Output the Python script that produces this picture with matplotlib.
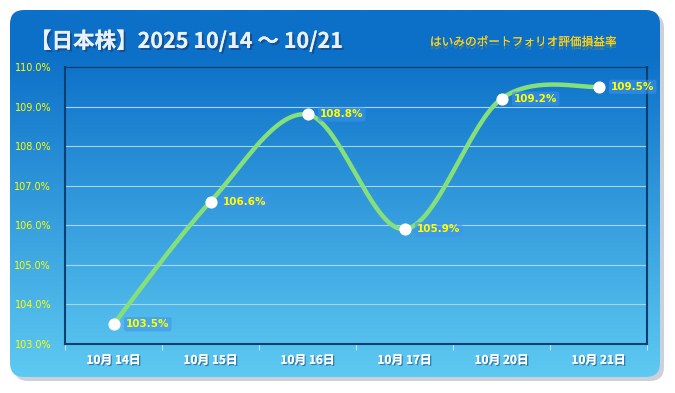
import numpy as np
import matplotlib
matplotlib.use("Agg")
from matplotlib import pyplot as plt
from matplotlib.patches import FancyBboxPatch
import matplotlib.patheffects as pe

plt.rcParams['font.family'] = ['Noto Sans CJK JP', 'DejaVu Sans']

# データ
dates = ["10月 14日", "10月 15日", "10月 16日", "10月 17日", "10月 20日", "10月 21日"]
values = [103.5, 106.6, 108.8, 105.9, 109.2, 109.5]
y_ticks = [103, 104, 105, 106, 107, 108, 109, 110]
title = "【日本株】2025 10/14 ～ 10/21"
subtitle = "はいみのポートフォリオ評価損益率"

W, H = 675, 393
fig = plt.figure(figsize=(W / 100, H / 100), dpi=100)
fig.patch.set_facecolor("white")

# 背景（カード＋グラデーション）
bg = fig.add_axes([0, 0, 1, 1])
bg.set_xlim(0, W)
bg.set_ylim(H, 0)
bg.axis("off")

shadow = FancyBboxPatch((14, 14), 650, 367, boxstyle="round,pad=0,rounding_size=14",
                        fc="#cdd0d6", ec="none", zorder=0)
bg.add_patch(shadow)
card = FancyBboxPatch((10, 10), 650, 367, boxstyle="round,pad=0,rounding_size=14",
                      fc="none", ec="none", zorder=1)
bg.add_patch(card)
top = np.array([12, 112, 200]) / 255
bot = np.array([94, 202, 242]) / 255
t = np.linspace(0, 1, 256)[:, None]
t = np.clip((t - 0.12) / 0.88, 0, 1)
grad = (top[None, :] * (1 - t) + bot[None, :] * t)[:, None, :]
im = bg.imshow(grad, extent=(10, 660, 377, 10), aspect="auto", interpolation="bilinear", zorder=2)
im.set_clip_path(card)

shadow_fx = [pe.withSimplePatchShadow(offset=(1.5, -1.5), shadow_rgbFace="#1b3c6a", alpha=0.6), pe.Normal()]
bg.text(30, 41, title, color="#e9f1fb", fontsize=15.5, fontweight="bold", va="center",
        ha="left", path_effects=shadow_fx, zorder=3)
bg.text(430, 42, subtitle, color="#ffd21a", fontsize=8.4, va="center",
        ha="left", zorder=3,
        path_effects=[pe.withSimplePatchShadow(offset=(0, -2.5), shadow_rgbFace="#e0b000", alpha=0.35), pe.Normal()])

# メインのグラフ
ax = fig.add_axes([65 / W, (H - 344) / H, 582 / W, 277 / H])
ax.patch.set_alpha(0)
ax.set_xlim(-0.5, len(dates) - 0.5)
ax.set_ylim(103, 110)
ax.set_yticks(y_ticks)
ax.set_yticklabels([f"{v:.1f}%" for v in y_ticks], color="#ffff00", fontsize=7,
                   family=["DejaVu Sans"])
ax.set_xticks(np.arange(len(dates)))
ax.set_xticklabels(dates, color="white", fontsize=8.5, fontweight="bold",
                   path_effects=[pe.withSimplePatchShadow(offset=(1, -1), shadow_rgbFace="#2a5a8a", alpha=0.7), pe.Normal()])
ax.set_xticks(np.arange(len(dates) + 1) - 0.5, minor=True)
ax.tick_params(axis="x", which="major", length=0, pad=7)
ax.tick_params(axis="x", which="minor", length=4, color="#d8ecf8", direction="out")
ax.tick_params(axis="y", length=0, pad=10)
ax.grid(axis="y", color="#a9d4f5", lw=0.8)
for s in ax.spines.values():
    s.set_color("#0a3f70")
    s.set_linewidth(1.5)
ax.spines["top"].set_linewidth(1)

# 平滑化した線（Catmull-Rom）
x = np.arange(len(values), dtype=float)
y = np.array(values)
px = np.concatenate([[x[0]], x, [x[-1]]])
py = np.concatenate([[y[0]], y, [y[-1]]])
cx, cy = [], []
u = np.linspace(0, 1, 40)
for i in range(1, len(px) - 2):
    p0 = np.array([px[i], py[i]])
    p3 = np.array([px[i + 1], py[i + 1]])
    c1 = p0 + (np.array([px[i + 1], py[i + 1]]) - np.array([px[i - 1], py[i - 1]])) / 6
    c2 = p3 - (np.array([px[i + 2], py[i + 2]]) - np.array([px[i], py[i]])) / 6
    b = ((1 - u) ** 3)[:, None] * p0 + (3 * (1 - u) ** 2 * u)[:, None] * c1 \
        + (3 * (1 - u) * u ** 2)[:, None] * c2 + (u ** 3)[:, None] * p3
    cx.extend(b[:, 0])
    cy.extend(b[:, 1])
ax.plot(cx, cy, color="#86e07a", lw=3.2, solid_capstyle="round", zorder=3)
ax.scatter(x, y, s=60, color="white", zorder=4, clip_on=False)

for xi, yi in zip(x, y):
    ax.annotate(f"{yi:.1f}%", (xi, yi), xytext=(9, 0), textcoords="offset points",
                color="#ffff00", fontsize=7.5, fontweight="bold", va="center", ha="left",
                family=["DejaVu Sans"], zorder=5,
                bbox=dict(boxstyle="round,pad=0.2", fc="#3f92f0", ec="none", alpha=0.55))

fig.savefig("out.png", dpi=100)
